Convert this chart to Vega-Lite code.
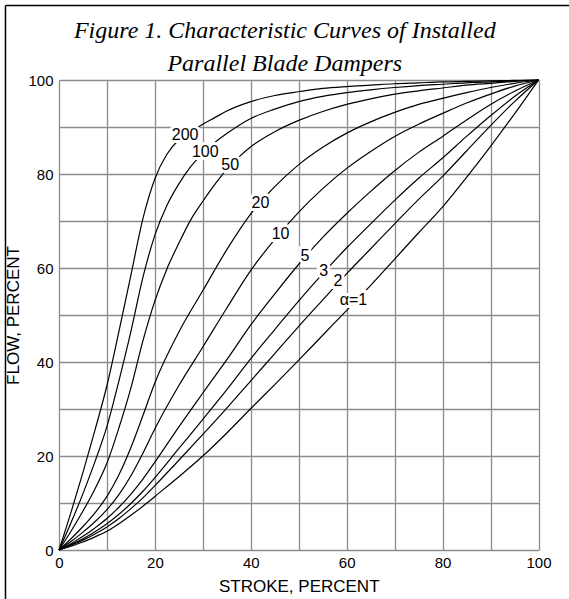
{
  "$schema": "https://vega.github.io/schema/vega-lite/v6.json",
  "width": 479.5,
  "height": 470,
  "autosize": {"type": "none"},
  "padding": {"left": 59, "top": 80, "right": 30, "bottom": 49},
  "background": "white",
  "title": {
    "text": ["Figure 1. Characteristic Curves of Installed", "Parallel Blade Dampers"],
    "font": "Liberation Serif",
    "fontStyle": "italic",
    "fontWeight": "normal",
    "fontSize": 24,
    "lineHeight": 33,
    "color": "black",
    "anchor": "middle",
    "frame": "group",
    "dx": -14,
    "offset": -71
  },
  "datasets": {
    "curves": [
      {"alpha":"1","stroke":0,"flow":0},{"alpha":"1","stroke":2.5,"flow":0.8},{"alpha":"1","stroke":5,"flow":1.7},{"alpha":"1","stroke":7.5,"flow":2.8},{"alpha":"1","stroke":10,"flow":4.0},{"alpha":"1","stroke":12.5,"flow":5.6},{"alpha":"1","stroke":15,"flow":7.4},{"alpha":"1","stroke":17.5,"flow":9.3},{"alpha":"1","stroke":20,"flow":11.4},{"alpha":"1","stroke":25,"flow":15.6},{"alpha":"1","stroke":30,"flow":20.0},{"alpha":"1","stroke":35,"flow":24.9},{"alpha":"1","stroke":40,"flow":30.1},{"alpha":"1","stroke":45,"flow":35.2},{"alpha":"1","stroke":50,"flow":40.4},{"alpha":"1","stroke":55,"flow":45.7},{"alpha":"1","stroke":60,"flow":51.0},{"alpha":"1","stroke":65,"flow":56.3},{"alpha":"1","stroke":70,"flow":61.9},{"alpha":"1","stroke":75,"flow":67.5},{"alpha":"1","stroke":80,"flow":73.0},{"alpha":"1","stroke":85,"flow":79.3},{"alpha":"1","stroke":90,"flow":85.9},{"alpha":"1","stroke":95,"flow":92.8},{"alpha":"1","stroke":100,"flow":100},
      {"alpha":"2","stroke":0,"flow":0},{"alpha":"2","stroke":2.5,"flow":1.0},{"alpha":"2","stroke":5,"flow":2.1},{"alpha":"2","stroke":7.5,"flow":3.4},{"alpha":"2","stroke":10,"flow":4.9},{"alpha":"2","stroke":12.5,"flow":6.7},{"alpha":"2","stroke":15,"flow":8.8},{"alpha":"2","stroke":17.5,"flow":11.1},{"alpha":"2","stroke":20,"flow":13.7},{"alpha":"2","stroke":25,"flow":19.1},{"alpha":"2","stroke":30,"flow":24.6},{"alpha":"2","stroke":35,"flow":30.2},{"alpha":"2","stroke":40,"flow":36.0},{"alpha":"2","stroke":45,"flow":41.8},{"alpha":"2","stroke":50,"flow":47.6},{"alpha":"2","stroke":55,"flow":53.2},{"alpha":"2","stroke":60,"flow":58.8},{"alpha":"2","stroke":65,"flow":64.1},{"alpha":"2","stroke":70,"flow":69.4},{"alpha":"2","stroke":75,"flow":74.6},{"alpha":"2","stroke":80,"flow":79.5},{"alpha":"2","stroke":85,"flow":84.9},{"alpha":"2","stroke":90,"flow":90.3},{"alpha":"2","stroke":95,"flow":95.4},{"alpha":"2","stroke":100,"flow":100},
      {"alpha":"3","stroke":0,"flow":0},{"alpha":"3","stroke":2.5,"flow":1.15},{"alpha":"3","stroke":5,"flow":2.4},{"alpha":"3","stroke":7.5,"flow":3.9},{"alpha":"3","stroke":10,"flow":5.6},{"alpha":"3","stroke":12.5,"flow":7.6},{"alpha":"3","stroke":15,"flow":9.9},{"alpha":"3","stroke":17.5,"flow":12.5},{"alpha":"3","stroke":20,"flow":15.4},{"alpha":"3","stroke":25,"flow":21.6},{"alpha":"3","stroke":30,"flow":27.8},{"alpha":"3","stroke":35,"flow":34.1},{"alpha":"3","stroke":40,"flow":40.7},{"alpha":"3","stroke":45,"flow":46.9},{"alpha":"3","stroke":50,"flow":53.0},{"alpha":"3","stroke":55,"flow":58.8},{"alpha":"3","stroke":60,"flow":64.3},{"alpha":"3","stroke":65,"flow":69.4},{"alpha":"3","stroke":70,"flow":74.4},{"alpha":"3","stroke":75,"flow":79.1},{"alpha":"3","stroke":80,"flow":83.4},{"alpha":"3","stroke":85,"flow":88.0},{"alpha":"3","stroke":90,"flow":92.4},{"alpha":"3","stroke":95,"flow":96.5},{"alpha":"3","stroke":100,"flow":100},
      {"alpha":"5","stroke":0,"flow":0},{"alpha":"5","stroke":2.5,"flow":1.35},{"alpha":"5","stroke":5,"flow":2.9},{"alpha":"5","stroke":7.5,"flow":4.7},{"alpha":"5","stroke":10,"flow":6.7},{"alpha":"5","stroke":12.5,"flow":9.1},{"alpha":"5","stroke":15,"flow":11.9},{"alpha":"5","stroke":17.5,"flow":15.1},{"alpha":"5","stroke":20,"flow":18.7},{"alpha":"5","stroke":25,"flow":26.2},{"alpha":"5","stroke":30,"flow":33.4},{"alpha":"5","stroke":35,"flow":40.5},{"alpha":"5","stroke":40,"flow":47.9},{"alpha":"5","stroke":45,"flow":54.5},{"alpha":"5","stroke":50,"flow":60.8},{"alpha":"5","stroke":55,"flow":66.5},{"alpha":"5","stroke":60,"flow":71.6},{"alpha":"5","stroke":65,"flow":76.3},{"alpha":"5","stroke":70,"flow":80.7},{"alpha":"5","stroke":75,"flow":84.6},{"alpha":"5","stroke":80,"flow":88.0},{"alpha":"5","stroke":85,"flow":91.5},{"alpha":"5","stroke":90,"flow":94.8},{"alpha":"5","stroke":95,"flow":97.6},{"alpha":"5","stroke":100,"flow":100},
      {"alpha":"10","stroke":0,"flow":0},{"alpha":"10","stroke":2.5,"flow":1.8},{"alpha":"10","stroke":5,"flow":3.8},{"alpha":"10","stroke":7.5,"flow":6.0},{"alpha":"10","stroke":10,"flow":8.6},{"alpha":"10","stroke":12.5,"flow":11.8},{"alpha":"10","stroke":15,"flow":15.8},{"alpha":"10","stroke":17.5,"flow":20.6},{"alpha":"10","stroke":20,"flow":25.8},{"alpha":"10","stroke":25,"flow":35.0},{"alpha":"10","stroke":30,"flow":43.2},{"alpha":"10","stroke":35,"flow":51.5},{"alpha":"10","stroke":40,"flow":59.5},{"alpha":"10","stroke":45,"flow":66.1},{"alpha":"10","stroke":50,"flow":71.9},{"alpha":"10","stroke":55,"flow":76.9},{"alpha":"10","stroke":60,"flow":81.2},{"alpha":"10","stroke":65,"flow":84.8},{"alpha":"10","stroke":70,"flow":88.0},{"alpha":"10","stroke":75,"flow":90.6},{"alpha":"10","stroke":80,"flow":92.9},{"alpha":"10","stroke":85,"flow":95.1},{"alpha":"10","stroke":90,"flow":97.0},{"alpha":"10","stroke":95,"flow":98.7},{"alpha":"10","stroke":100,"flow":100},
      {"alpha":"20","stroke":0,"flow":0},{"alpha":"20","stroke":2.5,"flow":2.4},{"alpha":"20","stroke":5,"flow":5.0},{"alpha":"20","stroke":7.5,"flow":7.9},{"alpha":"20","stroke":10,"flow":11.4},{"alpha":"20","stroke":12.5,"flow":16.0},{"alpha":"20","stroke":15,"flow":21.8},{"alpha":"20","stroke":17.5,"flow":28.6},{"alpha":"20","stroke":20,"flow":35.6},{"alpha":"20","stroke":25,"flow":46.4},{"alpha":"20","stroke":30,"flow":55.2},{"alpha":"20","stroke":35,"flow":63.9},{"alpha":"20","stroke":40,"flow":71.5},{"alpha":"20","stroke":45,"flow":77.3},{"alpha":"20","stroke":50,"flow":82.0},{"alpha":"20","stroke":55,"flow":85.7},{"alpha":"20","stroke":60,"flow":88.7},{"alpha":"20","stroke":65,"flow":91.1},{"alpha":"20","stroke":70,"flow":93.1},{"alpha":"20","stroke":75,"flow":94.8},{"alpha":"20","stroke":80,"flow":96.1},{"alpha":"20","stroke":85,"flow":97.3},{"alpha":"20","stroke":90,"flow":98.4},{"alpha":"20","stroke":95,"flow":99.3},{"alpha":"20","stroke":100,"flow":100},
      {"alpha":"50","stroke":0,"flow":0},{"alpha":"50","stroke":2.5,"flow":4.0},{"alpha":"50","stroke":5,"flow":8.3},{"alpha":"50","stroke":7.5,"flow":13.0},{"alpha":"50","stroke":10,"flow":18.5},{"alpha":"50","stroke":12.5,"flow":26.0},{"alpha":"50","stroke":15,"flow":34.5},{"alpha":"50","stroke":17.5,"flow":44.5},{"alpha":"50","stroke":20,"flow":53.0},{"alpha":"50","stroke":22.5,"flow":59.8},{"alpha":"50","stroke":25,"flow":65.3},{"alpha":"50","stroke":27.5,"flow":70.3},{"alpha":"50","stroke":30,"flow":74.2},{"alpha":"50","stroke":32.5,"flow":77.8},{"alpha":"50","stroke":35,"flow":81.0},{"alpha":"50","stroke":37.5,"flow":83.6},{"alpha":"50","stroke":40,"flow":85.8},{"alpha":"50","stroke":45,"flow":89.0},{"alpha":"50","stroke":50,"flow":91.4},{"alpha":"50","stroke":55,"flow":93.3},{"alpha":"50","stroke":60,"flow":94.8},{"alpha":"50","stroke":65,"flow":96.0},{"alpha":"50","stroke":70,"flow":97.0},{"alpha":"50","stroke":75,"flow":97.7},{"alpha":"50","stroke":80,"flow":98.3},{"alpha":"50","stroke":85,"flow":98.9},{"alpha":"50","stroke":90,"flow":99.3},{"alpha":"50","stroke":95,"flow":99.7},{"alpha":"50","stroke":100,"flow":100},
      {"alpha":"100","stroke":0,"flow":0},{"alpha":"100","stroke":2.5,"flow":5.8},{"alpha":"100","stroke":5,"flow":12.0},{"alpha":"100","stroke":7.5,"flow":18.8},{"alpha":"100","stroke":10,"flow":26.3},{"alpha":"100","stroke":12.5,"flow":36.0},{"alpha":"100","stroke":15,"flow":46.5},{"alpha":"100","stroke":17.5,"flow":58.0},{"alpha":"100","stroke":20,"flow":67.0},{"alpha":"100","stroke":22.5,"flow":73.3},{"alpha":"100","stroke":25,"flow":77.9},{"alpha":"100","stroke":27.5,"flow":81.6},{"alpha":"100","stroke":30,"flow":84.4},{"alpha":"100","stroke":32.5,"flow":86.7},{"alpha":"100","stroke":35,"flow":88.6},{"alpha":"100","stroke":40,"flow":91.8},{"alpha":"100","stroke":45,"flow":93.8},{"alpha":"100","stroke":50,"flow":95.4},{"alpha":"100","stroke":55,"flow":96.5},{"alpha":"100","stroke":60,"flow":97.3},{"alpha":"100","stroke":65,"flow":97.9},{"alpha":"100","stroke":70,"flow":98.4},{"alpha":"100","stroke":75,"flow":98.8},{"alpha":"100","stroke":80,"flow":99.1},{"alpha":"100","stroke":85,"flow":99.4},{"alpha":"100","stroke":90,"flow":99.6},{"alpha":"100","stroke":95,"flow":99.8},{"alpha":"100","stroke":100,"flow":100},
      {"alpha":"200","stroke":0,"flow":0},{"alpha":"200","stroke":2.5,"flow":8.0},{"alpha":"200","stroke":5,"flow":16.5},{"alpha":"200","stroke":7.5,"flow":25.5},{"alpha":"200","stroke":10,"flow":35.0},{"alpha":"200","stroke":12.5,"flow":46.5},{"alpha":"200","stroke":15,"flow":58.5},{"alpha":"200","stroke":17.5,"flow":70.5},{"alpha":"200","stroke":20,"flow":79.0},{"alpha":"200","stroke":22.5,"flow":84.2},{"alpha":"200","stroke":25,"flow":87.3},{"alpha":"200","stroke":27.5,"flow":89.0},{"alpha":"200","stroke":30,"flow":90.6},{"alpha":"200","stroke":32.5,"flow":92.0},{"alpha":"200","stroke":35,"flow":93.4},{"alpha":"200","stroke":40,"flow":95.4},{"alpha":"200","stroke":45,"flow":96.7},{"alpha":"200","stroke":50,"flow":97.5},{"alpha":"200","stroke":55,"flow":98.2},{"alpha":"200","stroke":60,"flow":98.6},{"alpha":"200","stroke":65,"flow":98.9},{"alpha":"200","stroke":70,"flow":99.2},{"alpha":"200","stroke":75,"flow":99.4},{"alpha":"200","stroke":80,"flow":99.6},{"alpha":"200","stroke":85,"flow":99.7},{"alpha":"200","stroke":90,"flow":99.8},{"alpha":"200","stroke":95,"flow":99.9},{"alpha":"200","stroke":100,"flow":100}
    ],
    "labels": [
      {"label":"200","stroke":26.3,"flow":88.3},
      {"label":"100","stroke":30.5,"flow":84.6},
      {"label":"50","stroke":35.7,"flow":81.9},
      {"label":"20","stroke":42.0,"flow":73.8},
      {"label":"10","stroke":46.2,"flow":67.3},
      {"label":"5","stroke":51.3,"flow":62.6},
      {"label":"3","stroke":55.2,"flow":59.4},
      {"label":"2","stroke":58.2,"flow":57.2},
      {"label":"α=1","stroke":61.4,"flow":53.1}
    ],
    "frame": [
      {"edge":"left","stroke":-11.16,"flow":-10.5,"stroke2":-11.16,"flow2":115.85},
      {"edge":"top","stroke":-11.16,"flow":115.85,"stroke2":106.4,"flow2":115.85}
    ]
  },
  "layer": [
    {
      "data": {"name": "curves"},
      "mark": {"type": "line", "interpolate": "monotone", "color": "black", "strokeWidth": 1.2},
      "encoding": {
        "x": {
          "field": "stroke", "type": "quantitative",
          "scale": {"domain": [0, 100], "nice": false, "zero": false},
          "axis": {
            "values": [0,10,20,30,40,50,60,70,80,90,100],
            "labelExpr": "datum.value % 20 === 0 ? datum.label : ''",
            "title": "STROKE, PERCENT",
            "grid": true, "gridColor": "#8c8c8c", "gridWidth": 1.3, "gridOpacity": 1,
            "domain": false, "ticks": false,
            "labelFont": "Liberation Sans", "labelFontSize": 15, "labelColor": "black", "labelPadding": 5,
            "labelFlush": false, "labelOverlap": false,
            "titleFont": "Liberation Sans", "titleFontSize": 17, "titleFontWeight": "normal", "titleColor": "black", "titlePadding": 8
          }
        },
        "y": {
          "field": "flow", "type": "quantitative",
          "scale": {"domain": [0, 100], "nice": false, "zero": false},
          "axis": {
            "values": [0,10,20,30,40,50,60,70,80,90,100],
            "labelExpr": "datum.value % 20 === 0 ? datum.label : ''",
            "title": "FLOW, PERCENT",
            "grid": true, "gridColor": "#8c8c8c", "gridWidth": 1.3, "gridOpacity": 1,
            "domain": false, "ticks": false,
            "labelFont": "Liberation Sans", "labelFontSize": 15, "labelColor": "black", "labelPadding": 6,
            "labelFlush": false, "labelOverlap": false,
            "titleFont": "Liberation Sans", "titleFontSize": 17, "titleFontWeight": "normal", "titleColor": "black", "titlePadding": 5
          }
        },
        "detail": {"field": "alpha", "type": "nominal"}
      }
    },
    {
      "data": {"name": "labels"},
      "mark": {"type": "text", "font": "Liberation Sans", "fontSize": 16, "stroke": "white", "strokeWidth": 6, "fill": "white", "align": "center", "baseline": "middle"},
      "encoding": {
        "x": {"field": "stroke", "type": "quantitative"},
        "y": {"field": "flow", "type": "quantitative"},
        "text": {"field": "label"}
      }
    },
    {
      "data": {"name": "labels"},
      "mark": {"type": "text", "font": "Liberation Sans", "fontSize": 16, "color": "black", "align": "center", "baseline": "middle"},
      "encoding": {
        "x": {"field": "stroke", "type": "quantitative"},
        "y": {"field": "flow", "type": "quantitative"},
        "text": {"field": "label"}
      }
    },
    {
      "data": {"name": "frame"},
      "mark": {"type": "rule", "color": "black", "strokeWidth": 1.5, "clip": false},
      "encoding": {
        "x": {"field": "stroke", "type": "quantitative"},
        "y": {"field": "flow", "type": "quantitative"},
        "x2": {"field": "stroke2"},
        "y2": {"field": "flow2"}
      }
    }
  ],
  "config": {"view": {"stroke": null}}
}
